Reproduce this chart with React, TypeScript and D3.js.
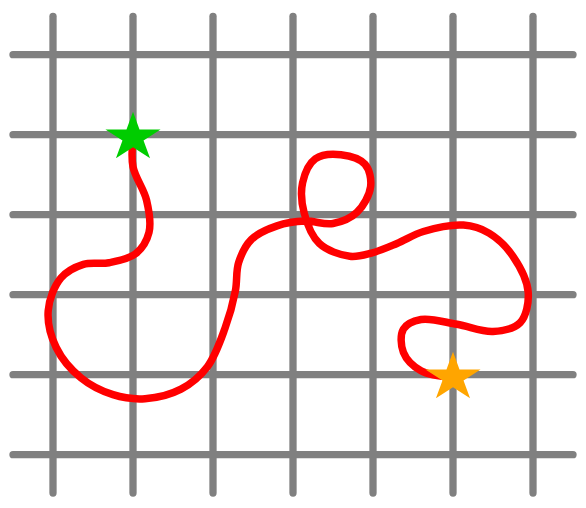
import React from "react";
import * as d3 from "d3";

const W = 586;
const H = 508;

const gridCols = [0, 1, 2, 3, 4, 5, 6];
const gridRows = [0, 1, 2, 3, 4, 5];

const pathX = [
  1.0, 1.0, 1.17, 1.2, 1.03, 0.7, 0.38, 0.1, -0.06, 0.04, 0.35, 0.75, 1.15, 1.6, 1.93, 2.15, 2.28, 2.32, 2.48, 2.8,
  3.15, 3.5, 3.8, 3.97, 3.9, 3.6, 3.28, 3.12, 3.14, 3.33, 3.71, 3.98, 4.3, 4.63, 5.13, 5.45, 5.75, 5.94, 5.84, 5.5,
  5.05, 4.6, 4.38, 4.38, 4.6, 5.0,
];
const pathY = [
  1.035, 1.4, 1.82, 2.22, 2.49, 2.6, 2.62, 2.79, 3.2, 3.66, 4.04, 4.25, 4.3, 4.18, 3.9, 3.42, 2.95, 2.6, 2.31, 2.14,
  2.08, 2.11, 1.97, 1.65, 1.37, 1.25, 1.3, 1.6, 1.98, 2.36, 2.52, 2.48, 2.36, 2.21, 2.13, 2.23, 2.52, 2.97, 3.35, 3.46,
  3.37, 3.31, 3.43, 3.72, 3.95, 4.035,
];

const starNames = ["start", "end"];
const starX = [1.0, 5.0];
const starY = [1.035, 4.035];
const starColors = ["#00cc00", "#ffa500"];

function starPath(rx: number, ry: number): string {
  const pts: [number, number][] = [];
  const inner = 0.381966;
  for (let i = 0; i < 10; i++) {
    const a = -Math.PI / 2 + (i * Math.PI) / 5;
    const r = i % 2 === 0 ? 1 : inner;
    pts.push([Math.cos(a) * r * rx, Math.sin(a) * r * ry]);
  }
  return "M" + pts.map((p) => p[0].toFixed(2) + "," + p[1].toFixed(2)).join("L") + "Z";
}

export default function App() {
  const x = d3.scaleLinear().domain([0, 6]).range([53, 533]);
  const y = d3.scaleLinear().domain([0, 5]).range([54.7, 454.7]);

  const pts: [number, number][] = pathX.map((v, i) => [v, pathY[i]]);
  const line = d3
    .line<[number, number]>()
    .x((d) => x(d[0]))
    .y((d) => y(d[1]))
    .curve(d3.curveCatmullRom.alpha(0.5));

  const star = starPath(29, 25.8);

  return (
    <svg
      width={W}
      height={H}
      style={{ position: "absolute", left: 0, top: 0, background: "#fff" }}
    >
      <g stroke="#808080" strokeWidth={7.3} strokeLinecap="round">
        {gridCols.map((c) => (
          <line key={"v" + c} x1={x(c)} x2={x(c)} y1={y(-0.48)} y2={y(5.48)} />
        ))}
        {gridRows.map((r) => (
          <line key={"h" + r} x1={x(-0.5)} x2={x(6.5)} y1={y(r)} y2={y(r)} />
        ))}
      </g>
      <path
        d={line(pts) || ""}
        fill="none"
        stroke="#ff0000"
        strokeWidth={7.5}
        strokeLinecap="round"
        strokeLinejoin="round"
      />
      {starNames.map((n, i) => (
        <path
          key={n}
          d={star}
          transform={`translate(${x(starX[i])},${y(starY[i])})`}
          fill={starColors[i]}
        />
      ))}
    </svg>
  );
}
